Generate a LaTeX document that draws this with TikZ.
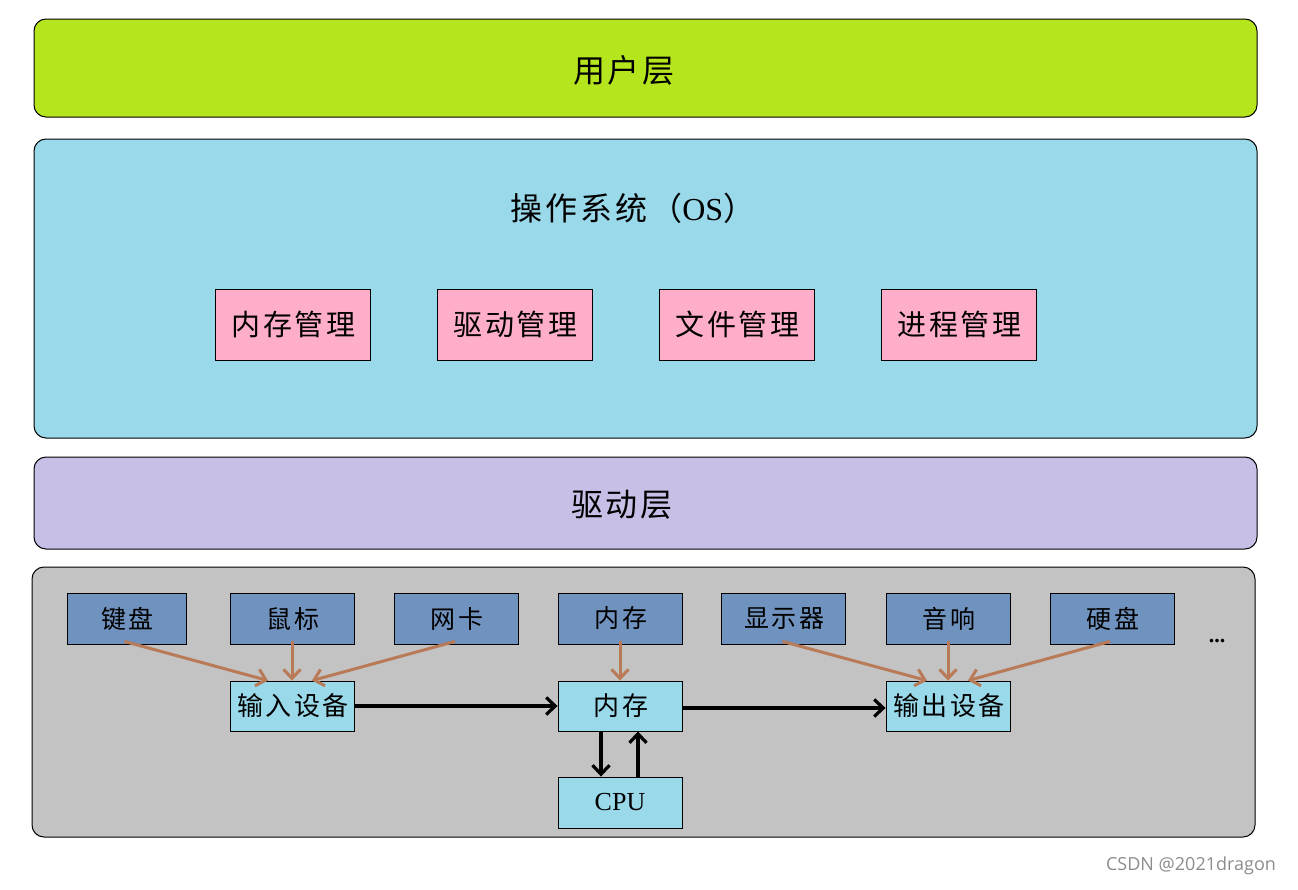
\documentclass[tikz,border=0pt]{standalone}
\usepackage{fontspec}
\setmainfont{Liberation Serif}
\newfontfamily\cjk[LetterSpace=9]{Noto Sans CJK SC}
\newfontfamily\wmfont{Open Sans}
\usetikzlibrary{arrows.meta}
\definecolor{lime}{HTML}{B5E61D}
\definecolor{turq}{HTML}{99D9EA}
\definecolor{rose}{HTML}{FFAEC9}
\definecolor{lav}{HTML}{C8BFE7}
\definecolor{hwgray}{HTML}{C3C3C3}
\definecolor{bgray}{HTML}{7092BE}
\definecolor{brown}{HTML}{B97A57}
\tikzset{
  layer/.style={draw=black, line width=1pt, rounded corners=12pt, inner sep=0pt},
  mgr/.style={draw=black, line width=0.9pt, fill=rose, minimum width=155pt, minimum height=71pt, inner sep=0pt, font=\cjk\fontsize{29}{31}\selectfont},
  dev/.style={draw=black, line width=0.9pt, fill=bgray, minimum width=124pt, minimum height=51pt, inner sep=0pt, font=\cjk\fontsize{25}{27}\selectfont},
  unit/.style={draw=black, line width=0.9pt, fill=turq, minimum width=124pt, minimum height=50pt, inner sep=0pt, font=\cjk\fontsize{26}{28}\selectfont},
  title/.style={font=\cjk\fontsize{32}{34}\selectfont, inner sep=0pt},
  feed/.style={draw=brown, line width=3pt, -{Straight Barb[length=9pt,width=17pt]}},
  flow/.style={draw=black, line width=3.2pt, -{Straight Barb[length=9pt,width=17pt]}},
}
\begin{document}
\begin{tikzpicture}[x=1pt,y=-1pt]
\useasboundingbox (0,0) rectangle (1298,889);
% layers
\node[layer, fill=lime, minimum width=1223pt, minimum height=98pt] (user) at (645.5,68) {};
\node[title] (usert) at (624,70) {用户层};
\node[layer, fill=turq, minimum width=1223pt, minimum height=299pt] (os) at (645.5,288.5) {};
\node[title] (ost) at (633,208) {操作系统（{\rmfamily OS}）};
\node[layer, fill=lav, minimum width=1223pt, minimum height=92pt] (drv) at (645.5,503) {};
\node[title] (drvt) at (622,505) {驱动层};
\node[layer, fill=hwgray, minimum width=1223pt, minimum height=270pt] (hw) at (643.5,702) {};
% managers
\node[mgr] (m1) at (292.5,324.5) {\hspace{2pt}内存管理};
\node[mgr] (m2) at (514.5,324.5) {\hspace{2pt}驱动管理};
\node[mgr] (m3) at (736.5,324.5) {\hspace{2pt}文件管理};
\node[mgr] (m4) at (958.5,324.5) {\hspace{2pt}进程管理};
% devices
\node[dev, minimum width=119pt] (kb) at (126.5,618.5) {\hspace{2pt}键盘};
\node[dev] (ms) at (292,618.5) {\hspace{2pt}鼠标};
\node[dev] (nc) at (456,618.5) {\hspace{2pt}网卡};
\node[dev] (mem0) at (620,618.5) {\hspace{2pt}内存};
\node[dev] (disp) at (783.5,618.5) {\hspace{2pt}显示器};
\node[dev] (spk) at (948,618.5) {\hspace{2pt}音响};
\node[dev] (hd) at (1112,618.5) {\hspace{2pt}硬盘};
\node[font=\rmfamily\bfseries\fontsize{22}{24}\selectfont, inner sep=0pt] (dots) at (1217,641) {...};
% units
\node[unit] (in) at (292,706) {\hspace{2pt}输入设备};
\node[unit] (mem) at (620,706) {\hspace{2pt}内存};
\node[unit] (out) at (948,706) {\hspace{2pt}输出设备};
\node[unit, minimum height=51pt, font=\rmfamily\fontsize{26}{28}\selectfont] (cpu) at (620,802.5) {\raisebox{-2pt}{CPU}};
% feed arrows
\draw[feed] ([xshift=-2pt,yshift=3pt]kb.south) -- ([xshift=-24pt]in.north);
\draw[feed] ([yshift=3pt]ms.south) -- (in.north);
\draw[feed] ([xshift=-1pt,yshift=3pt]nc.south) -- ([xshift=20pt]in.north);
\draw[feed] ([yshift=3pt]mem0.south) -- (mem.north);
\draw[feed] ([xshift=-1pt,yshift=3pt]disp.south) -- ([xshift=-21pt]out.north);
\draw[feed] ([yshift=3pt]spk.south) -- (out.north);
\draw[feed] ([xshift=-2pt,yshift=3pt]hd.south) -- ([xshift=20pt]out.north);
% flow arrows
\draw[flow] (in.east) -- (mem.west);
\draw[flow] ([yshift=-2pt]mem.east) -- ([yshift=-2pt]out.west);
\draw[flow] ([xshift=-19pt]mem.south) -- ([xshift=-19pt]cpu.north);
\draw[flow] ([xshift=18pt]cpu.north) -- ([xshift=18pt]mem.south);
% watermark
\node[font=\wmfont\fontsize{18}{20}\selectfont, text=black!45, inner sep=0pt] (wm) at (1191,866) {CSDN @2021dragon};
\end{tikzpicture}
\end{document}
